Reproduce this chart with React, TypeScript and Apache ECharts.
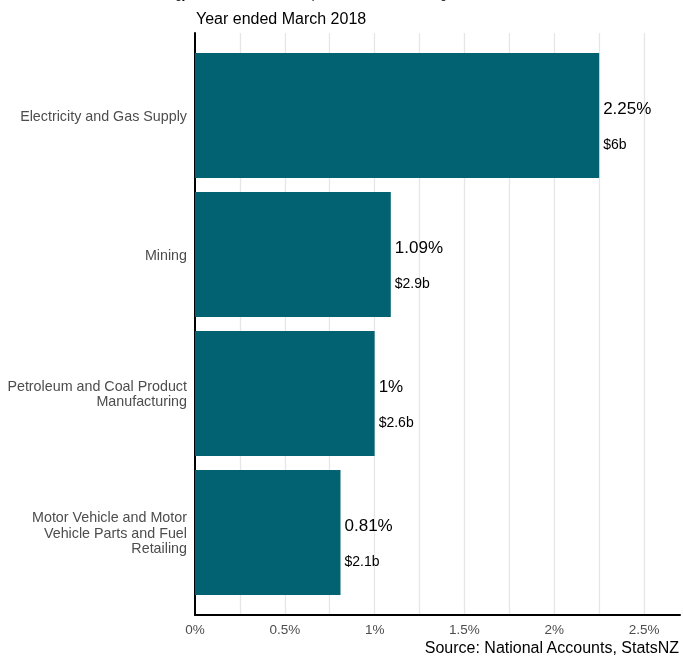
import React, { useEffect, useRef } from "react";
import * as echarts from "echarts";

const categories = [
  "Electricity and Gas Supply",
  "Mining",
  "Petroleum and Coal Product\nManufacturing",
  "Motor Vehicle and Motor\nVehicle Parts and Fuel\nRetailing",
];
const gdpShare = [2.25, 1.09, 1.0, 0.81];
const gdpDollars = [6, 2.9, 2.6, 2.1];
const xTicks = [0, 0.5, 1, 1.5, 2, 2.5];

const FONT = "'Liberation Sans', Arial, Helvetica, sans-serif";
const BAR = "#026272";

export default function App() {
  const ref = useRef<HTMLDivElement>(null);
  useEffect(() => {
    if (!ref.current) return;
    const chart = echarts.init(ref.current, undefined, { renderer: "svg" });
    const option: any = {
      animation: false,
      textStyle: { fontFamily: FONT },
      grid: [
        { left: 195, right: 3, top: 46, height: 556, outerBoundsMode: "none", containLabel: false },
        { left: 195, right: 3, top: 33, bottom: 42, outerBoundsMode: "none", containLabel: false },
      ],
      xAxis: [
        { type: "value", gridIndex: 0, min: 0, max: 2.7, show: false },
        {
          type: "value",
          gridIndex: 1,
          min: 0,
          max: 2.7,
          interval: 0.25,
          axisLine: { show: true, lineStyle: { color: "#000", width: 2 } },
          axisTick: { show: false },
          splitLine: { show: true, showMaxLine: false, showMinLine: false, lineStyle: { color: "#e6e6e6", width: 1.3 } },
          axisLabel: {
            color: "#4d4d4d",
            fontSize: 13.5,
            margin: 7,
            showMaxLabel: false,
            fontFamily: FONT,
            formatter: (v: number) => {
              const t = xTicks.find((x) => Math.abs(x - v) < 1e-6);
              return t === undefined ? "" : `${t}%`;
            },
          },
        },
      ],
      yAxis: [
        {
          type: "category",
          gridIndex: 0,
          inverse: true,
          data: categories,
          axisLine: { show: false },
          axisTick: { show: false },
          splitLine: { show: false },
          axisLabel: { color: "#4d4d4d", fontSize: 14.3, margin: 8, lineHeight: 15.7, fontFamily: FONT },
        },
        {
          type: "value",
          gridIndex: 1,
          min: 0,
          max: 1,
          axisLine: { show: true, lineStyle: { color: "#000", width: 2 } },
          axisTick: { show: false },
          axisLabel: { show: false },
          splitLine: { show: false },
        },
      ],
      series: [
        {
          type: "bar",
          xAxisIndex: 0,
          yAxisIndex: 0,
          data: gdpShare,
          barCategoryGap: "10%",
          itemStyle: { color: BAR },
          label: {
            show: true,
            position: "right",
            distance: 4,
            offset: [0, 10.5],
            formatter: (p: any) => `{a|${gdpShare[p.dataIndex]}%}\n{b|$${gdpDollars[p.dataIndex]}b}`,
            rich: {
              a: { fontSize: 17, lineHeight: 35, color: "#000", fontFamily: FONT },
              b: { fontSize: 14, lineHeight: 35, color: "#000", fontFamily: FONT },
            },
          },
        },
      ],
      graphic: [
        {
          type: "text",
          left: 150,
          top: -12,
          style: {
            text: "Energy intensive industries' impact on GDP and earnings",
            fontSize: 12,
            fontFamily: FONT,
            fill: "#000",
          },
        },
        {
          type: "text",
          left: 196,
          top: 10,
          style: { text: "Year ended March 2018", fontSize: 16, fontFamily: FONT, fill: "#000" },
        },
        {
          type: "text",
          right: 3,
          top: 639,
          style: { text: "Source: National Accounts, StatsNZ", fontSize: 16, fontFamily: FONT, fill: "#000" },
        },
      ],
    };
    chart.setOption(option);
    return () => chart.dispose();
  }, []);
  return <div ref={ref} style={{ position: "fixed", left: 0, top: 0, width: 683, height: 657 }} />;
}
